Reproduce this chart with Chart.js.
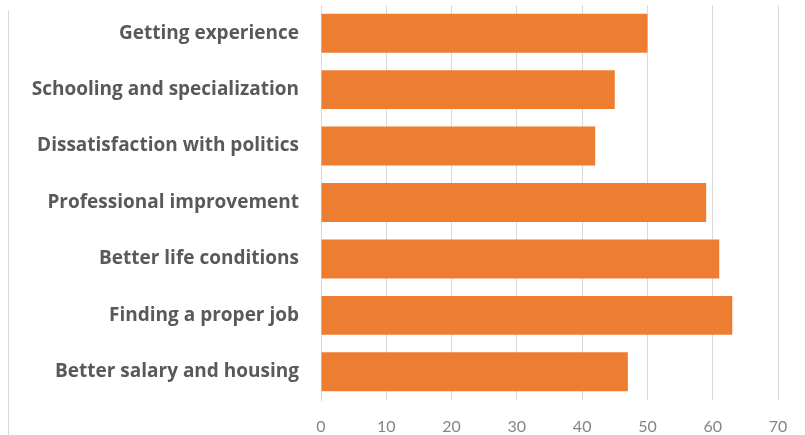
<!DOCTYPE html>
<html>
<head>
<meta charset="utf-8">
<script src="https://cdn.jsdelivr.net/npm/chart.js@4/dist/chart.umd.min.js"></script>
<style>
  html, body { margin: 0; padding: 0; background: #fff; }
  #wrap { position: relative; width: 805px; height: 435px; }
  #frame { position: absolute; left: 8px; top: 10px; width: 0; height: 425px; border-left: 1px solid #d9d9d9; }
  canvas { position: absolute; left: 0; top: 0; }
</style>
</head>
<body>
<div id="wrap">
  <canvas id="c" width="805" height="435"></canvas>
  <div id="frame"></div>
</div>
<script>
const categories = [
  "Getting experience",
  "Schooling and specialization",
  "Dissatisfaction with politics",
  "Professional improvement",
  "Better life conditions",
  "Finding a proper job",
  "Better salary and housing"
];
const values = [50, 45, 42, 59, 61, 63, 47];
const xTicks = [0, 10, 20, 30, 40, 50, 60, 70];

new Chart(document.getElementById('c'), {
  type: 'bar',
  data: {
    labels: categories,
    datasets: [{
      data: values,
      backgroundColor: '#ED7D31',
      borderWidth: 0,
      barPercentage: 0.69,
      categoryPercentage: 1.0
    }]
  },
  options: {
    indexAxis: 'y',
    responsive: false,
    animation: false,
    layout: { padding: { top: 5, right: 27, left: 0, bottom: 0 } },
    plugins: { legend: { display: false }, tooltip: { enabled: false } },
    scales: {
      x: {
        min: xTicks[0],
        max: xTicks[xTicks.length - 1],
        afterBuildTicks: (s) => { s.ticks = xTicks.map(v => ({ value: v })); },
        grid: { color: '#d9d9d9', lineWidth: 1, drawTicks: true, tickLength: 0 },
        border: { display: false },
        ticks: { color: '#858585', font: { family: 'Lato', size: 16 }, padding: 17 },
        afterFit: (s) => { s.height = 35; s.paddingLeft = 0; s.paddingRight = 0; }
      },
      y: {
        grid: { display: false, drawTicks: false },
        border: { display: true, color: '#d9d9d9', width: 1 },
        ticks: { color: '#595959', font: { family: 'Open Sans', size: 19, weight: 'bold' }, padding: 22 },
        afterFit: (s) => { s.width = 321; s.paddingTop = 0; s.paddingBottom = 0; }
      }
    }
  }
});
</script>
</body>
</html>
